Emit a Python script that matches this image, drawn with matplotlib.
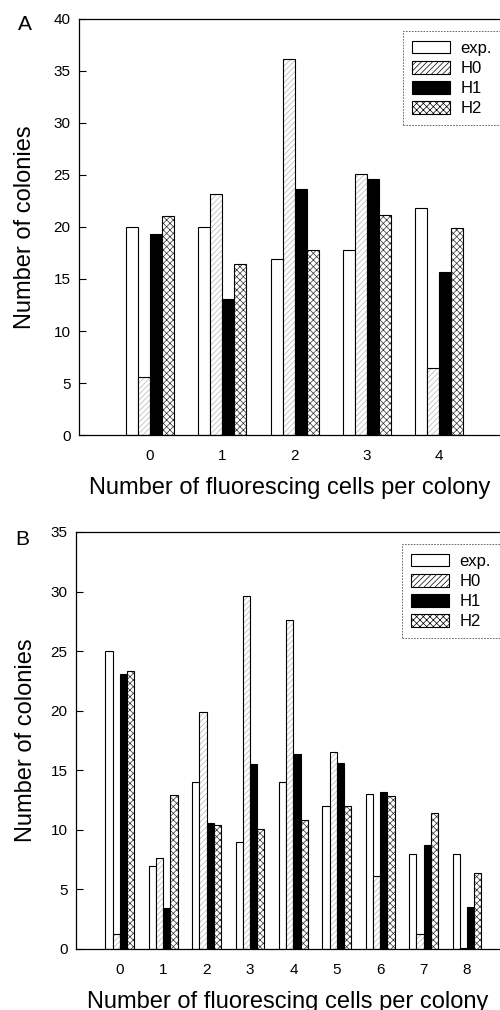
import matplotlib
matplotlib.use("Agg")
import matplotlib.pyplot as plt
import numpy as np
from matplotlib.patches import Patch

plt.rcParams["font.family"] = ["Liberation Sans", "DejaVu Sans"]
plt.rcParams["hatch.linewidth"] = 0.5

SERIES = ["exp.", "H0", "H1", "H2"]

# panel A
CATS_A = [0, 1, 2, 3, 4]
EXP_A = [20.0, 20.0, 16.9, 17.8, 21.8]
H0_A = [5.6, 23.2, 36.2, 25.1, 6.4]
H1_A = [19.3, 13.1, 23.7, 24.6, 15.7]
H2_A = [21.1, 16.4, 17.8, 21.2, 19.9]

# panel B
CATS_B = [0, 1, 2, 3, 4, 5, 6, 7, 8]
EXP_B = [25.0, 7.0, 14.0, 9.0, 14.0, 12.0, 13.0, 8.0, 8.0]
H0_B = [1.3, 7.6, 19.9, 29.6, 27.6, 16.5, 6.1, 1.3, 0.1]
H1_B = [23.1, 3.4, 10.6, 15.5, 16.4, 15.6, 13.2, 8.7, 3.5]
H2_B = [23.3, 12.9, 10.4, 10.1, 10.8, 12.0, 12.8, 11.4, 6.4]

STYLES = [
    dict(fc="white", hatch=None, hc="black"),
    dict(fc="white", hatch="//////", hc="#b5b5b5"),
    dict(fc="black", hatch=None, hc="black"),
    dict(fc="white", hatch="xxxxx", hc="#333333"),
]
W = 0.166


def draw_panel(ax, cats, series, ymax, xlim, letter, letter_xy):
    x = np.arange(len(cats))
    for i, (vals, st) in enumerate(zip(series, STYLES)):
        pos = x + (i - 1.5) * W
        if st["hatch"]:
            ax.bar(pos, vals, W, color=st["fc"], edgecolor=st["hc"],
                   hatch=st["hatch"], linewidth=0)
        ax.bar(pos, vals, W, fill=(st["fc"] == "black"), facecolor=st["fc"],
               edgecolor="black", linewidth=0.8)
    ax.set_xlim(*xlim)
    ax.set_ylim(0, ymax)
    ax.set_xticks(x)
    ax.set_xticklabels([str(c) for c in cats])
    ax.set_yticks(np.arange(0, ymax + 1, 5))
    ax.tick_params(axis="y", direction="in", length=5, width=0.8, pad=6, labelsize=11)
    ax.tick_params(axis="x", length=0, pad=10, labelsize=11)
    ax.spines["right"].set_visible(False)
    for s in ("left", "top", "bottom"):
        ax.spines[s].set_linewidth(0.9)
    ax.set_ylabel("Number of colonies", fontsize=17)
    ax.set_xlabel("Number of fluorescing cells per colony", fontsize=17, labelpad=10)
    ax.text(letter_xy[0], letter_xy[1], letter, transform=ax.transAxes, fontsize=15,
            ha="center", va="center")
    handles = []
    for name, st in zip(SERIES, STYLES):
        handles.append(Patch(facecolor=st["fc"], edgecolor="black",
                             hatch=st["hatch"], linewidth=0.8, label=name))
    leg = ax.legend(handles=handles, loc="upper left", bbox_to_anchor=(0.757, 0.982),
                    fontsize=12, handlelength=2.3, handleheight=0.8,
                    labelspacing=0.3, handletextpad=0.6, borderpad=0.55,
                    borderaxespad=0.3, fancybox=False, framealpha=1)
    leg.get_frame().set_edgecolor("#555555")
    leg.get_frame().set_linewidth(0.6)
    leg.get_frame().set_linestyle((0, (2, 1.5)))


fig = plt.figure(figsize=(5.0, 10.1), dpi=100)
ax_a = fig.add_axes([0.158, 0.5693, 0.842, 0.4119])
ax_b = fig.add_axes([0.152, 0.0604, 0.848, 0.4129])

draw_panel(ax_a, CATS_A, [EXP_A, H0_A, H1_A, H2_A], 40, (-0.98, 4.84), "A", (-0.128, 0.986))
draw_panel(ax_b, CATS_B, [EXP_B, H0_B, H1_B, H2_B], 35, (-1.01, 8.76), "B", (-0.127, 0.981))
ax_a.yaxis.set_label_coords(-0.103, 0.5)
ax_b.yaxis.set_label_coords(-0.092, 0.5)

fig.savefig("out.png", dpi=100)
